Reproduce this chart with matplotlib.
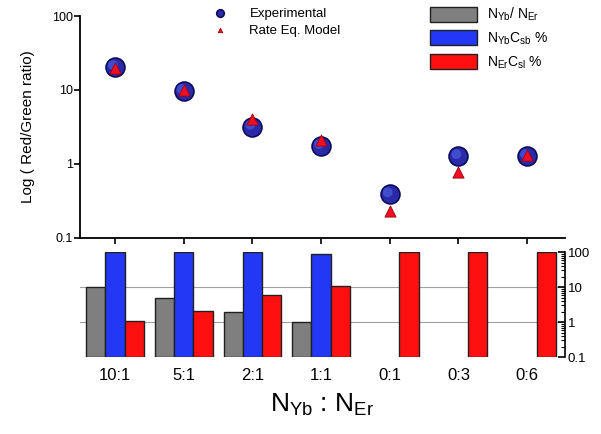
import numpy as np
import matplotlib
matplotlib.use("Agg")
import matplotlib.pyplot as plt
from matplotlib.ticker import LogLocator, FixedLocator, NullFormatter

plt.rcParams['font.family'] = ['Liberation Sans', 'DejaVu Sans']
plt.rcParams['mathtext.default'] = 'regular'

# Yb:Er ratios of the samples
ratios = ['10:1', '5:1', '2:1', '1:1', '0:1', '0:3', '0:6']

# red/green emission ratio, measured and from the rate-equation model
exp_ratio = [20.5, 9.7, 3.2, 1.75, 0.39, 1.28, 1.28]
model_ratio = [20.0, 10.0, 4.0, 2.1, 0.23, 0.78, 1.3]

# composition bars (log scale, 0 = not present)
n_yb_over_n_er = [10, 5, 2, 1, 0, 0, 0]
yb_pct = [100, 100, 100, 90, 0, 0, 0]
er_pct = [1.1, 2.1, 6.0, 11, 100, 100, 100]

x = np.arange(len(ratios))
w = 0.28
floor = 0.1

fig = plt.figure(figsize=(6.01, 4.34), dpi=100)
ax = fig.add_axes([0.133, 0.452, 0.807, 0.511])
axb = fig.add_axes([0.133, 0.177, 0.807, 0.242])

# --- upper panel: red/green ratio ---
ax.set_yscale('log')
ax.set_ylim(0.1, 100)
ax.set_xlim(-0.51, 6.55)
ax.scatter(x, exp_ratio, s=185, c='#2a2aa8', edgecolors='#0c0c5c',
           linewidths=1.2, zorder=3, label='Experimental')
ax.scatter(x - 0.03, np.array(exp_ratio) * 1.06, s=50, c='#4a5ae0',
           edgecolors='none', alpha=0.7, zorder=3.5)
ax.scatter(x, model_ratio, s=65, marker='^', c='#ee1020',
           edgecolors='#a00010', linewidths=0.6, zorder=4,
           label='Rate Eq. Model')
for s in ('top', 'right'):
    ax.spines[s].set_visible(False)
ax.spines['left'].set_linewidth(1.3)
ax.spines['bottom'].set_linewidth(1.3)
ax.yaxis.set_major_locator(FixedLocator([0.1, 1, 10, 100]))
ax.yaxis.set_minor_locator(FixedLocator([]))
ax.set_yticklabels(['0.1', '1', '10', '100'])
ax.tick_params(axis='y', direction='out', length=4, width=1.2, labelsize=9, pad=1)
ax.set_xticks(x)
ax.set_xticklabels([])
ax.tick_params(axis='x', direction='out', length=4, width=1.2)
ax.set_ylabel('Log ( Red/Green ratio)', fontsize=11, labelpad=12)

# --- lower panel: composition bars ---
axb.set_yscale('log')
axb.set_ylim(floor, 100)
axb.set_xlim(-0.51, 6.55)
for v in (1, 10):
    axb.axhline(v, color='#a0a0a0', lw=0.8, zorder=0)

def draw_bars(offset, vals, color, label):
    xs = [xi + offset for xi, v in zip(x, vals) if v > 0]
    hs = [v - floor for v in vals if v > 0]
    return axb.bar(xs, hs, width=w, bottom=floor, color=color,
                   edgecolor='#202020', linewidth=1.0, label=label, zorder=2)

b1 = draw_bars(-w, n_yb_over_n_er, '#7f7f7f', r'$N_{Yb}$/ $N_{Er}$')
b2 = draw_bars(0, yb_pct, '#2238f4', r'$N_{Yb}C_{sb}$ %')
b3 = draw_bars(w, er_pct, '#ff1010', r'$N_{Er}C_{sl}$ %')

for s in ('top', 'left', 'bottom'):
    axb.spines[s].set_visible(False)
axb.spines['right'].set_linewidth(1.2)
axb.yaxis.tick_right()
axb.yaxis.set_major_locator(FixedLocator([0.1, 1, 10, 100]))
axb.yaxis.set_minor_locator(LogLocator(base=10, subs=np.arange(2, 10)))
axb.yaxis.set_minor_formatter(NullFormatter())
axb.set_yticklabels(['0.1', '1', '10', '100'])
axb.tick_params(axis='y', which='major', direction='in', length=5, width=1.2,
                labelsize=9.5, pad=2)
axb.tick_params(axis='y', which='minor', direction='in', length=3, width=0.8)
axb.set_xticks(x)
axb.set_xticklabels(ratios, fontsize=12)
axb.tick_params(axis='x', length=0, pad=8)
axb.set_xlabel(r'$N_{Yb}$ : $N_{Er}$', fontsize=19, labelpad=6)

# legends
fig.legend(loc='upper left', bbox_to_anchor=(0.325, 1.01), frameon=False,
           handles=ax.get_legend_handles_labels()[0],
           labels=ax.get_legend_handles_labels()[1],
           fontsize=9.5, markerscale=0.4, handletextpad=1.2,
           labelspacing=0.35)
fig.legend(handles=[b1, b2, b3], loc='upper left', bbox_to_anchor=(0.695, 1.015),
           frameon=False, fontsize=10, handlelength=3.4, handleheight=1.3,
           handletextpad=0.7, labelspacing=0.5)

fig.savefig('out.png', dpi=100)
